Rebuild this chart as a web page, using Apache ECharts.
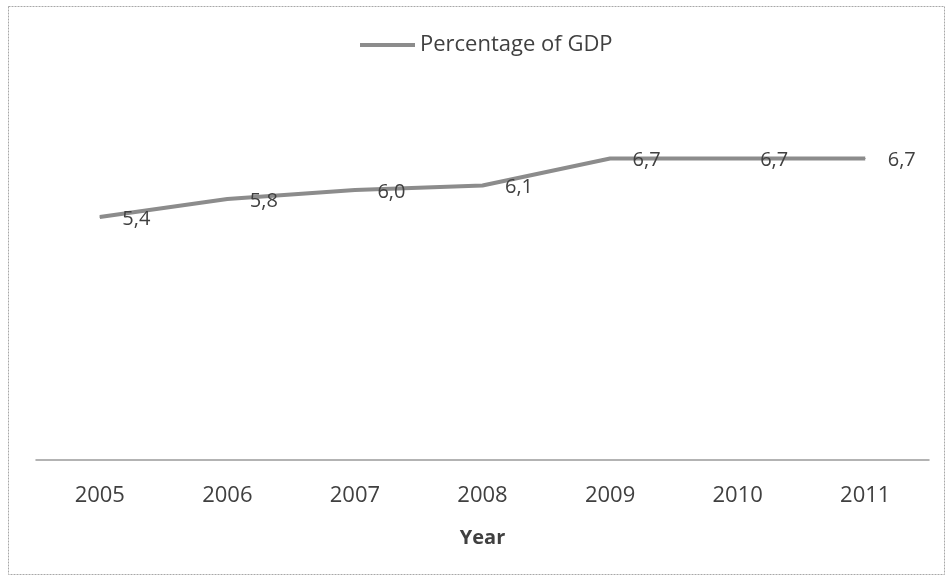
<!DOCTYPE html>
<html>
<head>
<meta charset="utf-8">
<script src="https://cdn.jsdelivr.net/npm/echarts@6/dist/echarts.min.js"></script>
<style>
  html, body { margin: 0; padding: 0; background: #fff; }
  #chart { width: 947px; height: 582px; }
</style>
</head>
<body>
<div id="chart"></div>
<script>
// GDP share by year
const years = ['2005', '2006', '2007', '2008', '2009', '2010', '2011'];
const gdpShare = [5.4, 5.8, 6.0, 6.1, 6.7, 6.7, 6.7];
const seriesName = 'Percentage of GDP';
const axisTitle = 'Year';

const FONT = '"Open Sans", "Noto Sans", sans-serif';
const LINE_GREY = '#8c8c8c';
const chart = echarts.init(document.getElementById('chart'));

chart.setOption({
  animation: false,
  backgroundColor: '#ffffff',
  textStyle: { fontFamily: FONT },
  graphic: [{
    type: 'rect',
    shape: { x: 8.5, y: 6.5, width: 936, height: 568 },
    style: { fill: 'none', stroke: '#a8a8a8', lineWidth: 1, lineDash: [2, 1] },
    silent: true
  }],
  legend: {
    top: 29,
    left: 355,
    itemWidth: 55,
    itemHeight: 4,
    itemGap: 2,
    icon: 'rect',
    itemStyle: { color: LINE_GREY, opacity: 1 },
    textStyle: { fontFamily: FONT, fontSize: 22, color: '#404040', padding: [0, 0, 0, 0] },
    data: [seriesName]
  },
  grid: { left: 36, right: 18, top: 100, bottom: 122 },
  xAxis: {
    type: 'category',
    data: years,
    boundaryGap: true,
    axisTick: { show: false },
    axisLine: { lineStyle: { color: '#9a9a9a', width: 1.5 } },
    axisLabel: { fontFamily: FONT, fontSize: 22, color: '#404040', margin: 25 },
    name: axisTitle,
    nameLocation: 'middle',
    nameGap: 68,
    nameTextStyle: { fontFamily: FONT, fontSize: 20, fontWeight: 'bold', color: '#404040' }
  },
  yAxis: {
    type: 'value',
    min: 0,
    max: 8,
    show: false,
    splitLine: { show: false }
  },
  series: [{
    name: seriesName,
    type: 'line',
    data: gdpShare,
    symbol: 'circle',
    symbolSize: 1,
    showSymbol: true,
    itemStyle: { color: LINE_GREY },
    lineStyle: { color: LINE_GREY, width: 4 },
    label: {
      show: true,
      position: 'right',
      distance: 22,
      offset: [0, 2],
      fontFamily: FONT,
      fontSize: 20,
      color: '#404040',
      formatter: p => p.value.toFixed(1).replace('.', ',')
    }
  }]
});
</script>
</body>
</html>
